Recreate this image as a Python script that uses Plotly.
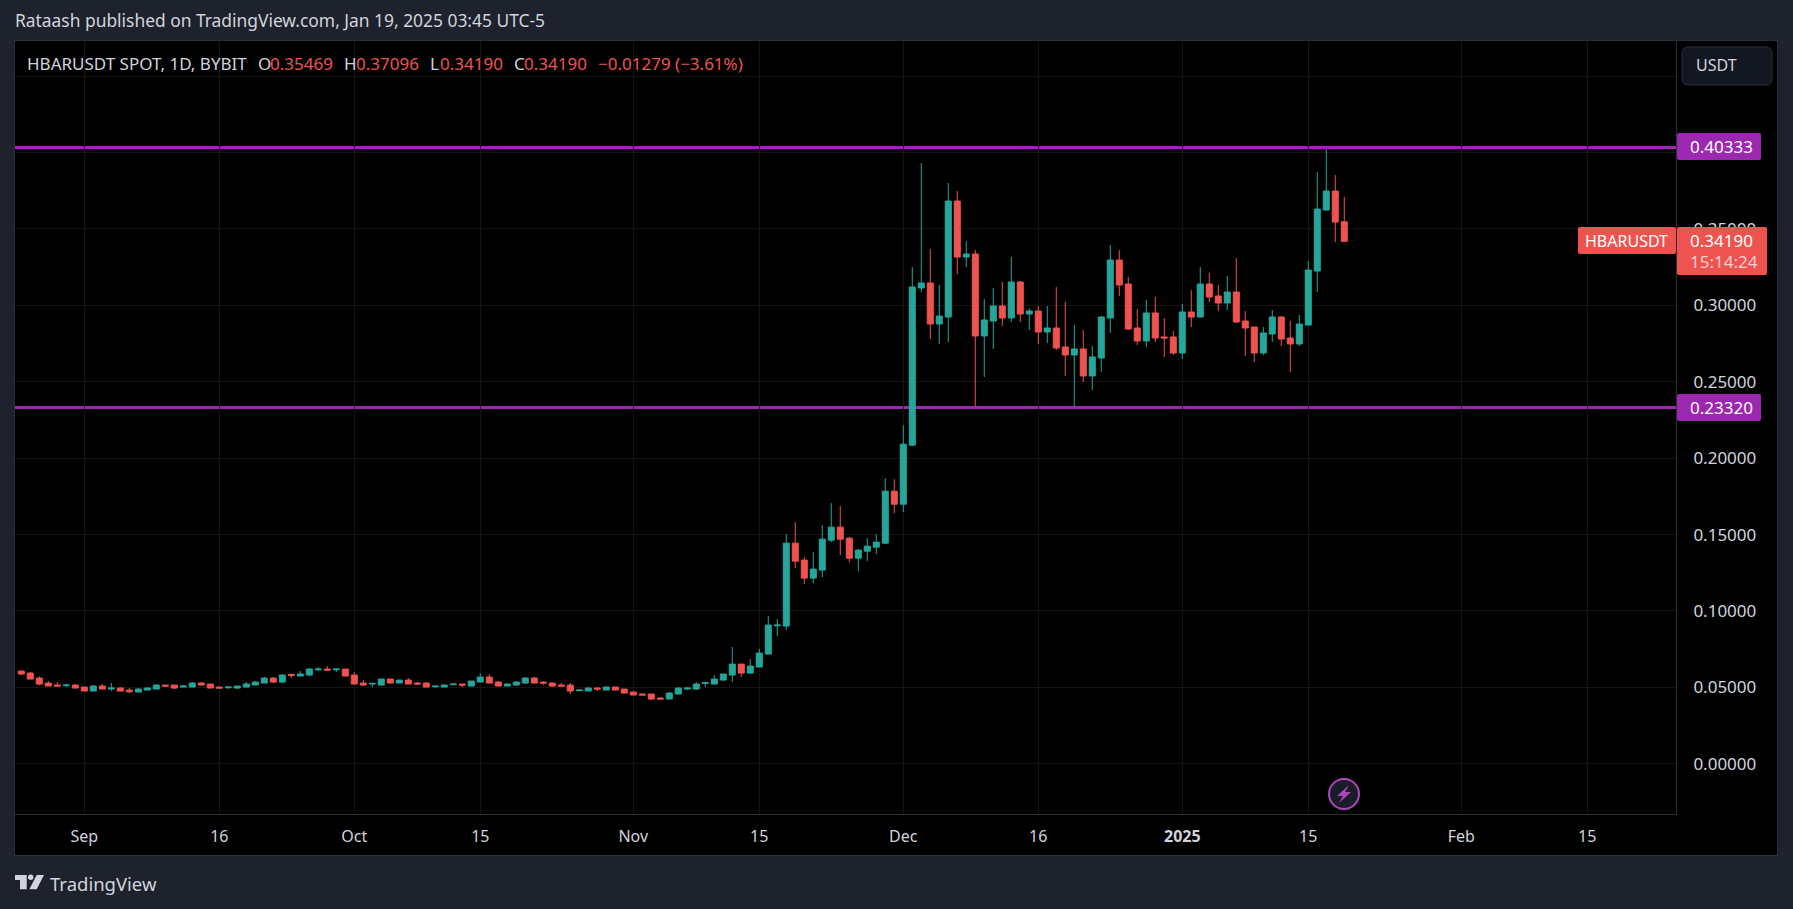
import pandas as pd
import plotly.graph_objects as go

W, H = 1793, 909
L, R, T, B = 15, 1676, 41, 814

dates = pd.date_range("2024-08-25", periods=148).strftime("%Y-%m-%d").tolist()

opens = [
    .06068,.05937,.05610,.05283,.05153,.05109,.05153,
    .05022,.0476,.05087,.04891,.04956,.04826,.04695,.04826,.04891,.05153,.05153,.05022,.05022,.05283,.05218,.05022,.04978,.04956,.05022,.05153,.05283,.0561,.05349,.0585,.05741,.05807,.06155,.06199,.06155,.06199,
    .05807,.05283,.05218,.05153,.05545,.05283,.0548,.05283,.05283,.05044,.05022,.05174,.05218,.05087,.05349,.05676,.05349,.05087,.05153,.05283,.0561,.05349,.05283,.05153,.05153,.04782,.0476,.04956,.04826,.05022,.04891,
    .04695,.04564,.04564,.04302,.04237,.04564,.04891,.04891,.05262,.05218,.0548,.05807,.06526,.05937,.0633,.0718,.09033,.09011,.14439,.13328,.1215,.12674,.14636,.15486,.14766,.13458,.13916,.14178,.14439,.1784,
    .1699,.20849,.31134,.31461,.28779,.29237,.36823,.33161,.33357,.27994,.28975,.29956,.29172,.31526,.29433,.29629,.28256,.28518,.27275,.26752,.27144,.25378,.26556,.29172,.32965,.31395,.28518,.27667,.29499,.27929,.27929,
    .26883,.29564,.29237,.31395,.3061,.30153,.30872,.28975,.28583,.26883,.28125,.29237,.27864,.27471,.28714,.32245,.36235,.37477,.35469,
]
highs = [
    .06068,.06003,.05719,.05414,.05349,.0524,.05218,
    .05022,.05153,.05218,.05283,.05022,.04956,.04956,.05022,.05218,.05153,.05153,.05153,.05349,.05349,.05218,.05065,.05087,.05087,.05349,.05414,.05676,.05676,.05872,.05894,.06068,.06264,.0633,.06395,.06264,.06199,
    .06003,.0548,.05283,.05545,.05545,.0548,.0561,.05349,.05349,.05087,.05218,.05218,.05218,.05414,.05937,.05872,.05414,.05283,.05414,.05676,.05676,.05414,.05283,.05283,.05283,.04891,.05022,.05022,.05087,.05022,.04891,
    .0476,.04629,.04564,.04368,.04695,.05022,.05022,.05349,.05349,.05807,.05872,.07638,.06526,.06853,.07507,.09665,.09469,.15028,.15813,.13524,.13851,.15617,.17055,.16859,.14832,.14047,.14766,.15028,.1869,.18625,
    .22157,.32507,.39309,.33684,.3133,.38001,.37477,.34207,.33619,.30414,.31134,.31526,.33161,.31591,.29826,.29956,.29956,.31199,.30218,.28714,.28387,.2734,.29302,.33946,.33619,.31853,.2976,.30349,.30545,.29172,.28321,
    .30087,.31003,.32507,.32115,.3133,.31918,.33096,.29629,.28583,.28583,.29695,.29302,.28975,.29368,.32899,.3872,.40224,.38524,.37096,
]
lows = [
    .05807,.05545,.05153,.05087,.05087,.05022,.04956,
    .0476,.0476,.04891,.0476,.0476,.04629,.04695,.04826,.04891,.05022,.04891,.05022,.05022,.05153,.04956,.04956,.04891,.04891,.05022,.05153,.05283,.05283,.05283,.0561,.05741,.05741,.06068,.06068,.06003,.05741,
    .05218,.05087,.05022,.05153,.05283,.05283,.05218,.05153,.05022,.04956,.05022,.05174,.05022,.05087,.05349,.05283,.05087,.05087,.05153,.05218,.05283,.05153,.05022,.05087,.04564,.0476,.0476,.0476,.04826,.04826,.04629,
    .04499,.04499,.04172,.04237,.04237,.04564,.04826,.04826,.05022,.05218,.05414,.05349,.05676,.05872,.0633,.0718,.08357,.0875,.12804,.11758,.11823,.12216,.14505,.13655,.13197,.12608,.13262,.1372,.14374,.16401,
    .16467,.20783,.30872,.27798,.27471,.27602,.32049,.32507,.23373,.25313,.27144,.28648,.2891,.2891,.28387,.27471,.27537,.27079,.25378,.23373,.24986,.24463,.2564,.28191,.3061,.28387,.27406,.27275,.27602,.26621,.26752,
    .2649,.28583,.29237,.30218,.29629,.29695,.28845,.26686,.26294,.26752,.27602,.2734,.2564,.2734,.28648,.30872,.36235,.34142,.3419,
]
closes = [
    .05872,.05545,.05218,.05087,.05087,.05153,.04956,
    .0476,.05087,.04891,.04956,.0476,.04717,.04891,.04956,.05153,.05087,.04956,.05087,.05283,.05153,.04956,.04956,.05022,.05087,.05218,.05349,.0561,.05349,.05807,.05785,.05872,.06199,.06199,.06134,.06199,.05741,
    .05218,.05153,.05262,.05545,.05283,.0548,.05218,.05218,.05022,.05087,.05153,.05218,.05153,.05414,.05676,.05283,.05087,.05218,.05349,.0561,.05283,.05283,.05087,.05087,.0476,.04826,.04956,.04891,.05022,.04826,.04629,
    .04499,.04499,.04237,.04237,.04629,.04956,.04956,.05218,.05305,.05545,.05872,.06526,.05937,.06395,.07245,.09077,.09077,.14439,.13262,.1215,.12739,.14701,.15486,.14701,.13458,.13982,.14243,.14505,.1784,.1699,
    .20914,.31199,.31461,.28779,.29302,.36823,.33161,.33357,.27994,.29041,.29956,.29172,.31526,.29433,.29629,.28256,.28518,.2721,.26752,.27144,.25378,.26621,.29237,.32965,.3133,.28452,.27667,.29499,.27864,.27864,.26883,
    .29564,.29237,.31395,.30545,.30153,.30872,.2891,.28518,.26883,.28191,.29237,.27798,.27471,.28779,.32311,.363,.37477,.3545,.3419,
]
assert len(opens) == len(highs) == len(lows) == len(closes) == len(dates)

level_high = 0.40333
level_low = 0.23320
y_ticks = [0.0, 0.05, 0.10, 0.15, 0.20, 0.25, 0.30, 0.35, 0.40, 0.45]
y_labels = ["0.00000", "0.05000", "0.10000", "0.15000", "0.20000", "0.25000", "0.30000", "0.35000", "", ""]
x_ticks = ["2024-09-01", "2024-09-16", "2024-10-01", "2024-10-15", "2024-11-01", "2024-11-15",
           "2024-12-01", "2024-12-16", "2025-01-01", "2025-01-15", "2025-02-01", "2025-02-15"]
x_labels = ["Sep", "16", "Oct", "15", "Nov", "15", "Dec", "16", "<b>2025</b>", "15", "Feb", "15"]

FONT = "Noto Sans"
BG = "#1e222d"
FRAME = "#2a2e39"
GRID = "#151515"
UP = "#26a69a"
DOWN = "#ef5350"
PURPLE = "#9c27b0"
TEXT = "#d1d4dc"


def px(x):
    return (x - L) / (R - L)


def py(y):
    return (B - y) / (B - T)


def poly(points):
    return "M " + " L ".join(f"{px(x)},{py(y)}" for x, y in points) + " Z"


def round_rect(x0, y0, x1, y1, r):
    return (f"M {px(x0 + r)},{py(y0)} L {px(x1 - r)},{py(y0)} Q {px(x1)},{py(y0)} {px(x1)},{py(y0 + r)} "
            f"L {px(x1)},{py(y1 - r)} Q {px(x1)},{py(y1)} {px(x1 - r)},{py(y1)} "
            f"L {px(x0 + r)},{py(y1)} Q {px(x0)},{py(y1)} {px(x0)},{py(y1 - r)} "
            f"L {px(x0)},{py(y0 + r)} Q {px(x0)},{py(y0)} {px(x0 + r)},{py(y0)} Z")


def shape_path(path, fill=None, line=None, width=0, layer="above"):
    return dict(type="path", xref="paper", yref="paper", path=path, fillcolor=fill or "rgba(0,0,0,0)",
                line=dict(color=line or "rgba(0,0,0,0)", width=width), layer=layer)


def note(text, x, y, color=TEXT, size=17, anchor="left"):
    return dict(text=text, x=px(x), y=py(y), xref="paper", yref="paper", xanchor=anchor, yanchor="middle",
                showarrow=False, borderpad=0, font=dict(family=FONT, size=size, color=color))


fig = go.Figure(go.Candlestick(
    x=dates, open=opens, high=highs, low=lows, close=closes,
    increasing=dict(line=dict(color=UP, width=1), fillcolor=UP),
    decreasing=dict(line=dict(color=DOWN, width=1), fillcolor=DOWN),
    whiskerwidth=0, hoverinfo="skip", showlegend=False,
))

shapes = [
    dict(type="rect", xref="paper", yref="paper", x0=px(14.5), x1=px(1777.5), y0=py(855.5), y1=py(40.5),
         fillcolor="#000000", line=dict(color=FRAME, width=1), layer="below"),
    dict(type="line", xref="paper", yref="y", x0=0, x1=1, y0=level_high, y1=level_high,
         line=dict(color=PURPLE, width=3), layer="below"),
    dict(type="line", xref="paper", yref="y", x0=0, x1=1, y0=level_low, y1=level_low,
         line=dict(color=PURPLE, width=3), layer="below"),
    shape_path(round_rect(1677, 133, 1761, 160, 2), fill=PURPLE),
    shape_path(round_rect(1677, 394, 1761, 421, 2), fill=PURPLE),
    shape_path(round_rect(1578, 227, 1676, 254, 2), fill=DOWN),
    shape_path(round_rect(1677, 227, 1767, 275, 2), fill=DOWN),
    shape_path(round_rect(1682, 47, 1772, 85, 6), fill="#131722", line=FRAME, width=1),
    dict(type="circle", xref="paper", yref="paper", x0=px(1329), x1=px(1359), y0=py(809), y1=py(779),
         fillcolor="#1a1d27", line=dict(color="#ab47bc", width=2), layer="above"),
    shape_path(poly([(1349, 785), (1337, 796), (1343, 796), (1339, 803), (1351, 792), (1345, 792)]), fill="#ab47bc"),
    shape_path(poly([(15, 875), (26.7, 875), (26.7, 889.3), (20, 889.3), (20, 880), (15, 880)]), fill=TEXT),
    dict(type="circle", xref="paper", yref="paper", x0=px(28), x1=px(33.4), y0=py(880), y1=py(874.6),
         fillcolor=TEXT, line=dict(width=0), layer="above"),
    shape_path(poly([(36.7, 875), (44, 875), (36.7, 889.3), (29.3, 889.3)]), fill=TEXT),
]

annotations = [
    note("Rataash published on TradingView.com, Jan 19, 2025 03:45 UTC-5", 14, 19.5, TEXT, 17.4),
    note("HBARUSDT SPOT, 1D, BYBIT", 26, 63),
    note("O", 257, 63), note("0.35469", 269, 63, DOWN),
    note("H", 343, 63), note("0.37096", 355, 63, DOWN),
    note("L", 429, 63), note("0.34190", 439, 63, DOWN),
    note("C", 513, 63), note("0.34190", 523, 63, DOWN),
    note("−0.01279 (−3.61%)", 597, 63, DOWN),
    note("USDT", 1695, 65, TEXT, 16),
    note("0.40333", 1689, 146.5, "#ffffff"),
    note("0.23320", 1689, 407.5, "#ffffff"),
    note("HBARUSDT", 1584, 240.5, "#ffffff", 16),
    note("0.34190", 1689, 240.5, "#ffffff"),
    note("15:14:24", 1689, 261.5, "#fbd0d1"),
    note("TradingView", 49, 883, TEXT, 18.5),
]

fig.update_layout(
    width=W, height=H, autosize=False,
    margin=dict(l=L, r=W - R, t=T, b=H - B, pad=0),
    paper_bgcolor=BG, plot_bgcolor="#000000",
    font=dict(family=FONT, size=17, color=TEXT),
    boxgap=0.33, boxgroupgap=0, showlegend=False, hovermode=False,
    shapes=shapes, annotations=annotations,
    xaxis=dict(
        type="date", range=["2024-08-24 07:12", "2025-02-24 20:38"],
        rangeslider=dict(visible=False),
        tickmode="array", tickvals=x_ticks, ticktext=x_labels, tickangle=0,
        showgrid=True, gridcolor=GRID, gridwidth=1, zeroline=False,
        showline=True, linecolor=FRAME, linewidth=1,
        ticks="outside", ticklen=8, tickcolor="rgba(0,0,0,0)",
        tickfont=dict(family=FONT, size=16, color=TEXT),
    ),
    yaxis=dict(
        side="right", range=[-0.03285, 0.47297],
        tickmode="array", tickvals=y_ticks, ticktext=y_labels,
        showgrid=True, gridcolor=GRID, gridwidth=1, zeroline=False,
        showline=True, linecolor=FRAME, linewidth=1,
        ticks="outside", ticklen=13, tickcolor="rgba(0,0,0,0)",
        tickfont=dict(family=FONT, size=17, color=TEXT),
    ),
)

fig.write_html(
    "out.html",
    config=dict(displayModeBar=False, responsive=False),
    post_script="document.body.style.margin='0';document.body.style.overflow='hidden';document.body.style.background='#1e222d';",
)
